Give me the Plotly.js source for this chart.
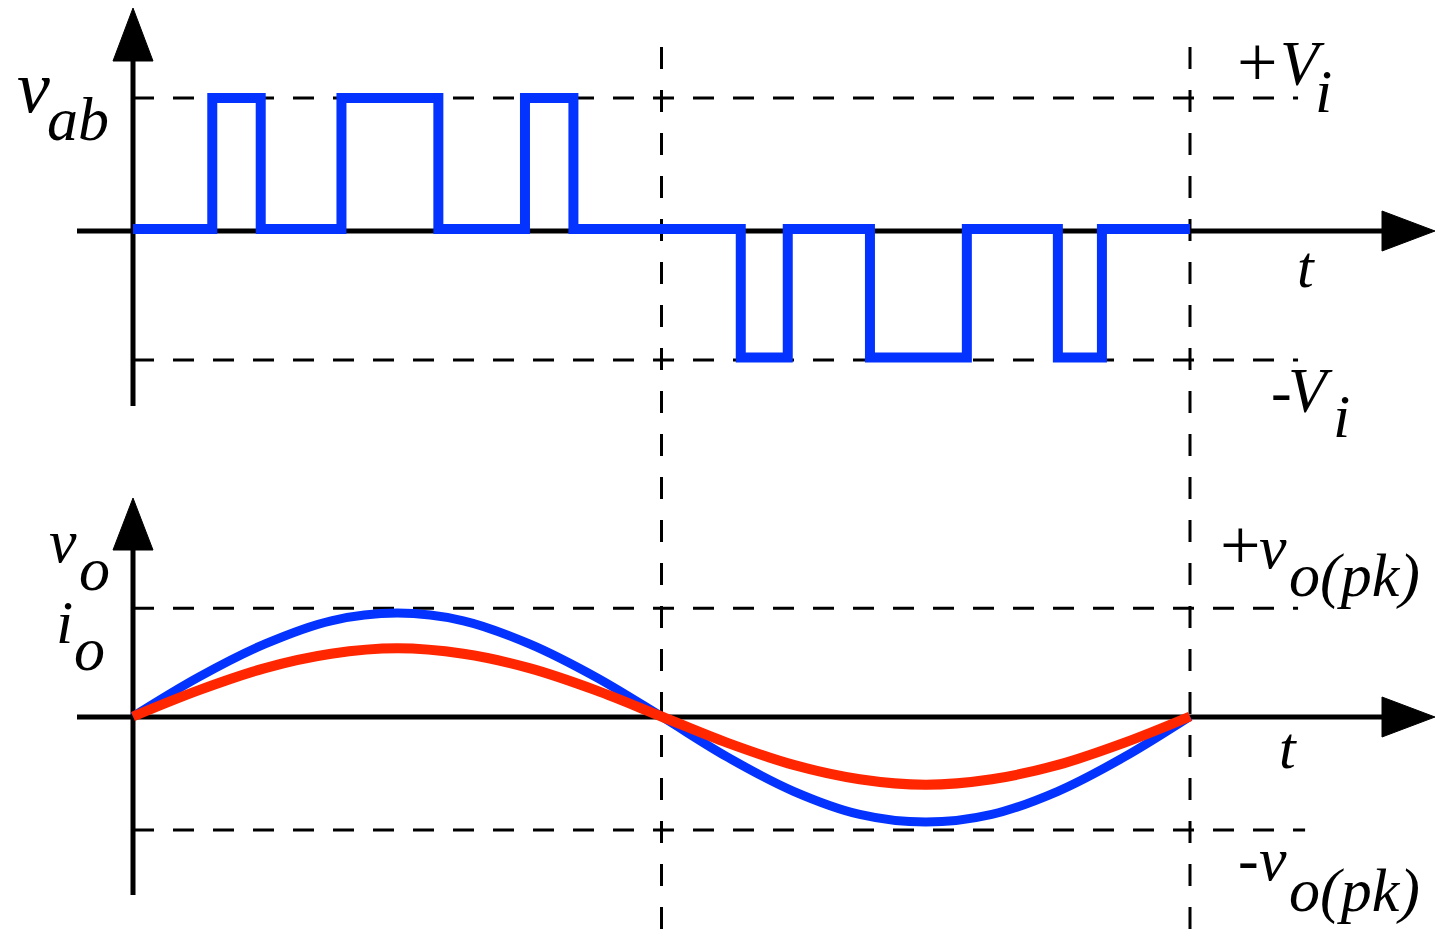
<!DOCTYPE html>
<html>
<head>
<meta charset="utf-8">
<script src="https://cdn.plot.ly/plotly-3.0.1.min.js"></script>
<style>html,body{margin:0;padding:0;background:#fff;}#chart{width:1445px;height:934px;}</style>
</head>
<body>
<div id="chart"></div>
<script>
// ---- data (angle in electrical degrees, one period = 360) ----
const switchTimes = [0, 27, 43.5, 71, 104, 133.5, 150, 207, 223, 251, 284, 315, 330, 360];
const vabLevels   = [0, 1,  0,    1,  0,   1,     0,  -0.98, 0, -0.98, 0, -0.98, 0, 0];   // in units of Vi
const sineTimes = [0, 22.5, 45, 67.5, 90, 112.5, 135, 157.5, 180, 202.5, 225, 247.5, 270, 292.5, 315, 337.5, 360];
const voValues  = [0, 0.36, 0.66, 0.87, 0.94, 0.87, 0.66, 0.36, 0, -0.37, -0.68, -0.89, -0.96, -0.89, -0.68, -0.37, 0];
const ioValues  = [0, 0.24, 0.44, 0.57, 0.62, 0.57, 0.44, 0.24, 0, -0.24, -0.44, -0.57, -0.62, -0.57, -0.44, -0.24, 0];
const viLevels  = [1, -1];          // +Vi, -Vi
const voPkLevels = [0.984, -1.032]; // +vo(pk), -vo(pk)
const halfPeriodMarks = [180, 360];

// ---- page geometry helpers ----
const W = 1445, H = 934;
const X = px => px / W;
const Y = py => 1 - py / H;
const BLUE = '#0433ff', RED = '#ff2600';
const FONT = 'Liberation Serif, Times New Roman, serif';

const traces = [
  {x: switchTimes, y: vabLevels, xaxis: 'x', yaxis: 'y', mode: 'lines',
   line: {color: BLUE, width: 10, shape: 'hv'}, hoverinfo: 'skip'},
  {x: sineTimes, y: voValues, xaxis: 'x', yaxis: 'y2', mode: 'lines',
   line: {color: BLUE, width: 9, shape: 'spline', smoothing: 1}, hoverinfo: 'skip'},
  {x: sineTimes, y: ioValues, xaxis: 'x', yaxis: 'y2', mode: 'lines',
   line: {color: RED, width: 10, shape: 'spline', smoothing: 1}, hoverinfo: 'skip'}
];

const shapes = [];
const axisLine = {color: '#000', width: 5};
function seg(x0, y0, x1, y1) {
  shapes.push({type: 'line', xref: 'paper', yref: 'paper', x0: X(x0), y0: Y(y0), x1: X(x1), y1: Y(y1),
               line: axisLine, layer: 'below'});
}
function tri(pts) {
  const d = 'M' + pts.map(p => X(p[0]) + ',' + Y(p[1])).join(' L') + ' Z';
  shapes.push({type: 'path', xref: 'paper', yref: 'paper', path: d, fillcolor: '#000',
               line: {color: '#000', width: 1}, layer: 'below'});
}
// top axes
seg(133, 406, 133, 58);
seg(77, 231, 1385, 231);
tri([[113, 61], [153, 61], [133, 8]]);
tri([[1382, 211], [1382, 251], [1435, 231]]);
// bottom axes
seg(133, 895, 133, 548);
seg(77, 717, 1385, 717);
tri([[113, 550], [153, 550], [133, 498]]);
tri([[1382, 697], [1382, 737], [1435, 717]]);

// dashed level lines
const dashH = {color: '#000', width: 3, dash: '21px,19px'};
viLevels.forEach(v => shapes.push({type: 'line', xref: 'x', yref: 'y', x0: 0, x1: 396.8, y0: v, y1: v,
                                   line: dashH, layer: 'below'}));
voPkLevels.forEach((v, i) => shapes.push({type: 'line', xref: 'x', yref: 'y2', x0: 0, x1: i ? 399.2 : 396.8, y0: v, y1: v,
                                   line: dashH, layer: 'below'}));
const dashV = {color: '#000', width: 3, dash: '22px,21px'};
halfPeriodMarks.forEach(t => shapes.push({type: 'line', xref: 'x', yref: 'paper', x0: t, x1: t, y0: Y(47), y1: 0,
                                   line: dashV, layer: 'below'}));

// labels: left edge px, baseline px, font size
const annotations = [];
function lab(text, left, base, size) {
  annotations.push({xref: 'paper', yref: 'paper', x: X(left), y: Y(base - 0.3375 * size),
    xanchor: 'left', yanchor: 'middle', showarrow: false, text: text,
    font: {family: FONT, size: size, color: '#000'}, borderpad: 0});
}
lab('<i>v</i>', 16, 112, 74);
lab('<i>ab</i>', 46, 140, 62);
lab('+', 1236, 86, 72);
lab('<i>V</i>', 1279, 85, 63);
lab('<i>i</i>', 1314, 112, 62);
lab('<i>t</i>', 1296, 287, 60);
lab('-', 1270, 412, 62);
lab('<i>V</i>', 1287, 412, 63);
lab('<i>i</i>', 1332, 437, 62);
lab('<i>v</i>', 48, 562, 62);
lab('<i>o</i>', 78, 590, 62);
lab('<i>i</i>', 55, 643, 62);
lab('<i>o</i>', 73, 670, 62);
lab('+', 1219, 569, 72);
lab('<i>v</i>', 1258, 568, 62);
lab('<i>o(pk)</i>', 1288, 596, 62);
lab('<i>t</i>', 1278, 768, 60);
lab('-', 1237, 880, 62);
lab('<i>v</i>', 1258, 880, 62);
lab('<i>o(pk)</i>', 1288, 911, 62);

const layout = {
  width: W, height: H, margin: {l: 0, r: 0, t: 0, b: 0, pad: 0},
  paper_bgcolor: '#fff', plot_bgcolor: '#fff', showlegend: false,
  xaxis: {range: [-45.298, 446.85], visible: false, fixedrange: true},
  yaxis: {range: [-5.3817, 1.7481], visible: false, fixedrange: true},
  yaxis2: {range: [-1.97727, 6.51364], visible: false, overlaying: 'y', fixedrange: true},
  shapes: shapes, annotations: annotations
};
Plotly.newPlot('chart', traces, layout, {staticPlot: true, displayModeBar: false});
</script>
</body>
</html>
